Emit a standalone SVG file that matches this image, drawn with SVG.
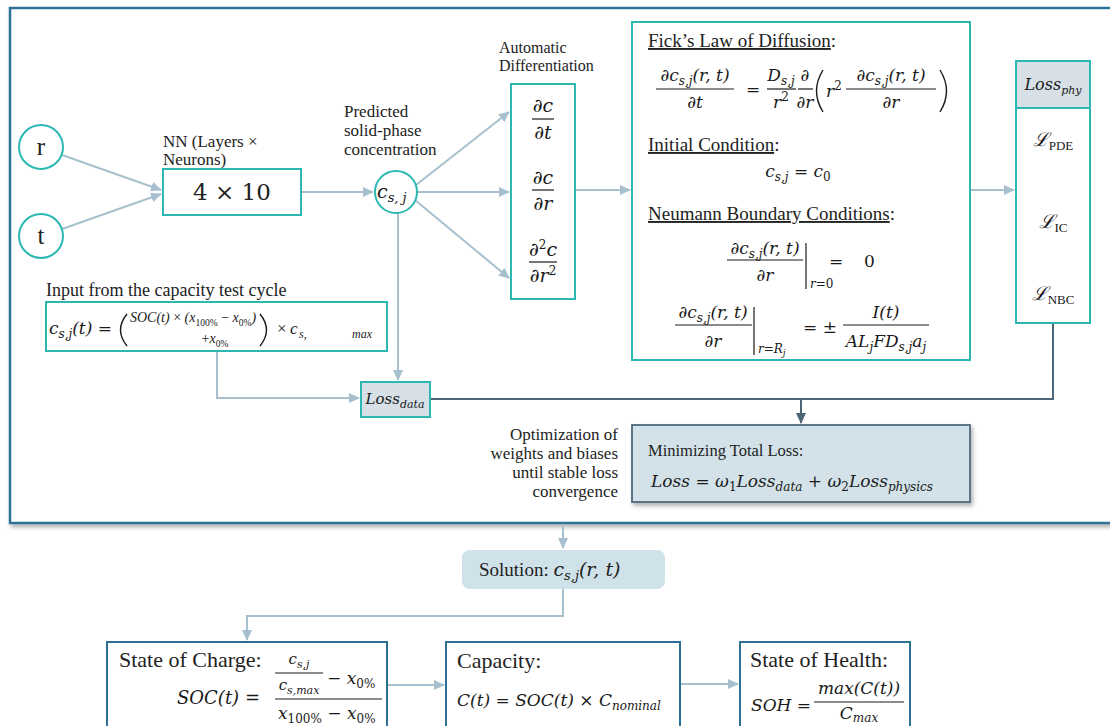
<svg xmlns="http://www.w3.org/2000/svg" width="1110" height="726" viewBox="0 0 1110 726">
<defs>
<style>
.lbl{font-family:"Liberation Serif","DejaVu Serif",serif;fill:#222}
.m{font-family:"DejaVu Serif","Liberation Serif",serif;font-style:italic;fill:#1a1a1a}
.ml{font-family:"Liberation Serif","DejaVu Serif",serif;font-style:italic;fill:#1a1a1a}
.u{font-style:normal}
.box{fill:#fff;stroke:#2bb8b2;stroke-width:2}
.bbox{fill:#fff;stroke:#2b6f94;stroke-width:2}
.con{fill:none;stroke:#a8c0cd;stroke-width:2}
.dcon{fill:none;stroke:#4d6677;stroke-width:2}
.bar{stroke:#1a1a1a;stroke-width:1.2}
.par{fill:none;stroke:#1a1a1a;stroke-width:1.4}
.mid{text-anchor:middle}
.end{text-anchor:end}
</style>
<marker id="ah" markerWidth="11" markerHeight="10" refX="10" refY="5" orient="auto" markerUnits="userSpaceOnUse"><path d="M0,0 L11,5 L0,10 z" fill="#a8c0cd"/></marker>
<marker id="ahd" markerWidth="11" markerHeight="10" refX="10" refY="5" orient="auto" markerUnits="userSpaceOnUse"><path d="M0,0 L11,5 L0,10 z" fill="#4d6677"/></marker>
<filter id="sh" x="-5%" y="-10%" width="112%" height="130%"><feDropShadow dx="2" dy="3" stdDeviation="2" flood-color="#000" flood-opacity="0.3"/></filter>
</defs>
<rect x="0" y="0" width="1110" height="726" fill="#fff"/>
<g font-size="17">
<g id="frame"><rect x="10" y="8" width="1112" height="515" fill="#fff" stroke="#2d7395" stroke-width="2.5" filter="url(#sh)"/></g>

<g id="connectors">
<line class="con" x1="62" y1="155" x2="161" y2="190" marker-end="url(#ah)"/>
<line class="con" x1="62" y1="229" x2="161" y2="194" marker-end="url(#ah)"/>
<line class="con" x1="301" y1="192" x2="373" y2="192" marker-end="url(#ah)"/>
<line class="con" x1="416" y1="185" x2="509" y2="112" marker-end="url(#ah)"/>
<line class="con" x1="418" y1="192" x2="509" y2="192" marker-end="url(#ah)"/>
<line class="con" x1="415" y1="200" x2="509" y2="278" marker-end="url(#ah)"/>
<line class="con" x1="575" y1="190" x2="630" y2="190" marker-end="url(#ah)"/>
<line class="con" x1="970" y1="190" x2="1014" y2="190" marker-end="url(#ah)"/>
<line class="con" x1="398" y1="213" x2="398" y2="380" marker-end="url(#ah)"/>
<polyline class="con" points="217,351 217,398 359,398" marker-end="url(#ah)"/>
<polyline class="dcon" points="430,399 1053,399 1053,323"/>
<line class="dcon" x1="801" y1="399" x2="801" y2="423" marker-end="url(#ahd)"/>
<line class="con" x1="563" y1="524" x2="563" y2="548" marker-end="url(#ah)"/>
<polyline class="con" points="563,589 563,616 247,616 247,640" marker-end="url(#ah)"/>
<line class="con" x1="387" y1="685" x2="444" y2="685" marker-end="url(#ah)"/>
<line class="con" x1="680" y1="684" x2="738" y2="684" marker-end="url(#ah)"/>
</g>

<g id="node-r"><circle cx="41" cy="147" r="22" class="box"/><text x="41" y="155" class="lbl mid" font-size="25">r</text></g>
<g id="node-t"><circle cx="41" cy="236" r="22" class="box"/><text x="41" y="244" class="lbl mid" font-size="25">t</text></g>

<g id="node-nn">
<text x="163" y="147" class="lbl">NN (Layers ×</text>
<text x="163" y="165" class="lbl">Neurons)</text>
<rect x="163" y="169" width="138" height="46" class="box"/>
<text x="232" y="200" class="mid" font-size="23" font-family="DejaVu Serif" fill="#222">4 × 10</text>
</g>

<g id="node-c">
<text x="344" y="117" class="lbl">Predicted</text>
<text x="344" y="136" class="lbl">solid-phase</text>
<text x="344" y="155" class="lbl">concentration</text>
<circle cx="396" cy="192" r="21" class="box"/>
<text x="377" y="198" class="m" font-size="19">c<tspan font-size="13" dy="4">s, j</tspan></text>
</g>

<g id="node-ad">
<text x="499" y="53" class="lbl" font-size="16">Automatic</text>
<text x="499" y="71" class="lbl" font-size="16">Differentiation</text>
<rect x="511" y="84" width="64" height="215" class="box"/>
<text x="543" y="112" class="m mid" font-size="19">∂c</text>
<line class="bar" x1="532" y1="119" x2="554" y2="119"/>
<text x="543" y="139" class="m mid" font-size="19">∂t</text>
<text x="543" y="184" class="m mid" font-size="19">∂c</text>
<line class="bar" x1="532" y1="190" x2="554" y2="190"/>
<text x="543" y="210" class="m mid" font-size="19">∂r</text>
<text x="543" y="256" class="m mid" font-size="19">∂<tspan font-size="12" dy="-7" class="u">2</tspan><tspan dy="7">c</tspan></text>
<line class="bar" x1="529" y1="262" x2="557" y2="262"/>
<text x="543" y="282" class="m mid" font-size="19">∂r<tspan font-size="12" dy="-7" class="u">2</tspan></text>
</g>

<g id="node-fick">
<rect x="632" y="22" width="338" height="338" class="box"/>
<text x="648" y="47" class="lbl" font-size="19"><tspan text-decoration="underline">Fick’s Law of Diffusion</tspan>:</text>
<text x="695" y="81" class="m mid">∂c<tspan font-size="12" dy="4">s,j</tspan><tspan dy="-4">(r, t)</tspan></text>
<line class="bar" x1="656" y1="89" x2="734" y2="89"/>
<text x="695" y="108" class="m mid">∂t</text>
<text x="753" y="95" class="m u mid">=</text>
<text x="781" y="81" class="m mid">D<tspan font-size="12" dy="4">s,j</tspan></text>
<line class="bar" x1="767" y1="89" x2="796" y2="89"/>
<text x="781" y="108" class="m mid">r<tspan class="u" font-size="12" dy="-7">2</tspan></text>
<text x="805" y="81" class="m mid">∂</text>
<line class="bar" x1="798" y1="89" x2="813" y2="89"/>
<text x="805" y="108" class="m mid">∂r</text>
<path class="par" d="M823,70 Q810,91 823,112"/>
<text x="826" y="97" class="m">r<tspan class="u" font-size="12" dy="-7">2</tspan></text>
<text x="891" y="81" class="m mid">∂c<tspan font-size="12" dy="4">s,j</tspan><tspan dy="-4">(r, t)</tspan></text>
<line class="bar" x1="846" y1="89" x2="936" y2="89"/>
<text x="891" y="108" class="m mid">∂r</text>
<path class="par" d="M940,70 Q953,91 940,112"/>

<text x="648" y="151" class="lbl" font-size="19"><tspan text-decoration="underline">Initial Condition</tspan>:</text>
<text x="798" y="177" class="m mid">c<tspan font-size="12" dy="4">s,j</tspan><tspan dy="-4" class="u"> =  </tspan>c<tspan font-size="12" dy="4" class="u">0</tspan></text>

<text x="648" y="220" class="lbl" font-size="19"><tspan text-decoration="underline">Neumann Boundary Conditions</tspan>:</text>
<text x="765" y="254" class="m mid">∂c<tspan font-size="12" dy="4">s,j</tspan><tspan dy="-4">(r, t)</tspan></text>
<line class="bar" x1="727" y1="260" x2="803" y2="260"/>
<text x="765" y="281" class="m mid">∂r</text>
<line class="bar" x1="806" y1="243" x2="806" y2="289"/>
<text x="810" y="288" class="m" font-size="12">r<tspan class="u">=0</tspan></text>
<text x="829" y="267" class="m u">=</text>
<text x="864" y="267" class="m u">0</text>
<text x="713" y="318" class="m mid">∂c<tspan font-size="12" dy="4">s,j</tspan><tspan dy="-4">(r, t)</tspan></text>
<line class="bar" x1="675" y1="325" x2="752" y2="325"/>
<text x="713" y="347" class="m mid">∂r</text>
<line class="bar" x1="754" y1="307" x2="754" y2="355"/>
<text x="758" y="353" class="m" font-size="12">r<tspan class="u">=</tspan>R<tspan font-size="9" dy="3">j</tspan></text>
<text x="803" y="333" class="m u">=  ±</text>
<text x="886" y="318" class="m mid">I(t)</text>
<line class="bar" x1="843" y1="325" x2="929" y2="325"/>
<text x="886" y="347" class="m mid">AL<tspan font-size="12" dy="4">j</tspan><tspan dy="-4">FD</tspan><tspan font-size="12" dy="4">s,j</tspan><tspan dy="-4">a</tspan><tspan font-size="12" dy="4">j</tspan></text>
</g>

<g id="node-lossphy">
<rect x="1016" y="61" width="74" height="262" class="box"/>
<rect x="1016" y="61" width="74" height="47" fill="#d6e0e6" stroke="#2bb8b2" stroke-width="2"/>
<text x="1053" y="90" class="m mid" font-size="16">Loss<tspan font-size="11" dy="4">phy</tspan></text>
<text x="1053" y="146" class="m mid" font-size="19">ℒ<tspan class="u" font-size="13" dy="4" font-family="Liberation Serif">PDE</tspan></text>
<text x="1053" y="228" class="m mid" font-size="19">ℒ<tspan class="u" font-size="13" dy="4" font-family="Liberation Serif">IC</tspan></text>
<text x="1053" y="300" class="m mid" font-size="19">ℒ<tspan class="u" font-size="13" dy="4" font-family="Liberation Serif">NBC</tspan></text>
</g>

<g id="node-input">
<text x="46" y="296" class="lbl" font-size="18">Input from the capacity test cycle</text>
<rect x="46" y="302" width="341" height="49" class="box"/>
<text x="49" y="334" class="m" font-size="17">c<tspan font-size="12" dy="4">s,j</tspan><tspan dy="-4">(t) </tspan><tspan class="u">=</tspan></text>
<path class="par" d="M127,314 Q114,330 127,346"/>
<text x="130" y="322" class="ml" font-size="14">SOC(t) <tspan class="u">×</tspan> (x<tspan font-size="9.5" dy="4" class="u">100%</tspan><tspan dy="-4" class="u"> − </tspan>x<tspan font-size="9.5" dy="4" class="u">0%</tspan><tspan dy="-4">)</tspan></text>
<text x="215" y="343" class="ml mid" font-size="14"><tspan class="u">+</tspan>x<tspan font-size="9.5" dy="4" class="u">0%</tspan></text>
<path class="par" d="M260,314 Q273,330 260,346"/>
<text x="277" y="334" class="ml u" font-size="17">×</text>
<text x="290" y="334" class="ml" font-size="17">c</text>
<text x="299" y="338" class="ml" font-size="12">s,</text>
<text x="352" y="338" class="ml" font-size="12">max</text>
</g>

<g id="node-lossdata">
<rect x="361" y="382" width="69" height="35" fill="#d6e0e6" stroke="#2bb8b2" stroke-width="2"/>
<text x="395" y="404" class="m mid" font-size="15">Loss<tspan font-size="11" dy="4">data</tspan></text>
</g>

<g id="node-min">
<text x="618" y="440" class="lbl end">Optimization of</text>
<text x="618" y="459" class="lbl end">weights and biases</text>
<text x="618" y="478" class="lbl end">until stable loss</text>
<text x="618" y="497" class="lbl end">convergence</text>
<rect x="632" y="425" width="338" height="77" fill="#d3e2e9" stroke="#4d6a7c" stroke-width="1.8" filter="url(#sh)"/>
<text x="648" y="456" class="lbl" font-size="16.5">Minimizing Total Loss:</text>
<text x="651" y="487" class="m" font-size="17">Loss <tspan class="u">=</tspan> ω<tspan class="u" font-size="12" dy="4">1</tspan><tspan dy="-4">Loss</tspan><tspan font-size="12" dy="4">data</tspan><tspan dy="-4" class="u"> +  </tspan>ω<tspan class="u" font-size="12" dy="4">2</tspan><tspan dy="-4">Loss</tspan><tspan font-size="12" dy="4">physics</tspan></text>
</g>

<g id="node-solution">
<rect x="462" y="550" width="203" height="39" rx="8" fill="#cfe1e9"/>
<text x="479" y="576" class="lbl" font-size="19">Solution: <tspan font-family="DejaVu Serif" font-style="italic" font-size="19">c<tspan font-size="13" dy="4">s,j</tspan><tspan dy="-4">(r, t)</tspan></tspan></text>
</g>

<g id="node-soc">
<rect x="107" y="642" width="280" height="100" class="bbox"/>
<text x="119" y="667" class="lbl" font-size="22">State of Charge:</text>
<text x="177" y="704" class="m" font-size="18">SOC(t) <tspan class="u">=</tspan></text>
<text x="299" y="664" class="m mid" font-size="15">c<tspan font-size="11" dy="4">s,j</tspan></text>
<line class="bar" x1="275" y1="673" x2="323" y2="673"/>
<text x="299" y="690" class="m mid" font-size="15">c<tspan font-size="11" dy="4">s,max</tspan></text>
<text x="327" y="684" class="m"><tspan class="u">−  </tspan>x<tspan class="u" font-size="12" dy="4">0%</tspan></text>
<line class="bar" x1="275" y1="699" x2="382" y2="699"/>
<text x="278" y="719" class="m">x<tspan class="u" font-size="12" dy="4">100%</tspan><tspan class="u" dy="-4">  −  </tspan>x<tspan class="u" font-size="12" dy="4">0%</tspan></text>
</g>

<g id="node-capacity">
<rect x="446" y="642" width="234" height="100" class="bbox"/>
<text x="457" y="668" class="lbl" font-size="22">Capacity:</text>
<text x="457" y="706" class="m" font-size="17">C(t) <tspan class="u">=</tspan> SOC(t) <tspan class="u">×</tspan> C<tspan font-size="12" dy="4">nominal</tspan></text>
</g>

<g id="node-soh">
<rect x="740" y="642" width="170" height="100" class="bbox"/>
<text x="750" y="667" class="lbl" font-size="22">State of Health:</text>
<text x="751" y="711" class="m" font-size="17">SOH <tspan class="u">=</tspan></text>
<text x="859" y="694" class="m mid" font-size="17">max(C(t))</text>
<line class="bar" x1="814" y1="702" x2="904" y2="702"/>
<text x="859" y="719" class="m mid" font-size="17">C<tspan font-size="12" dy="3">max</tspan></text>
</g>
</g>
</svg>
